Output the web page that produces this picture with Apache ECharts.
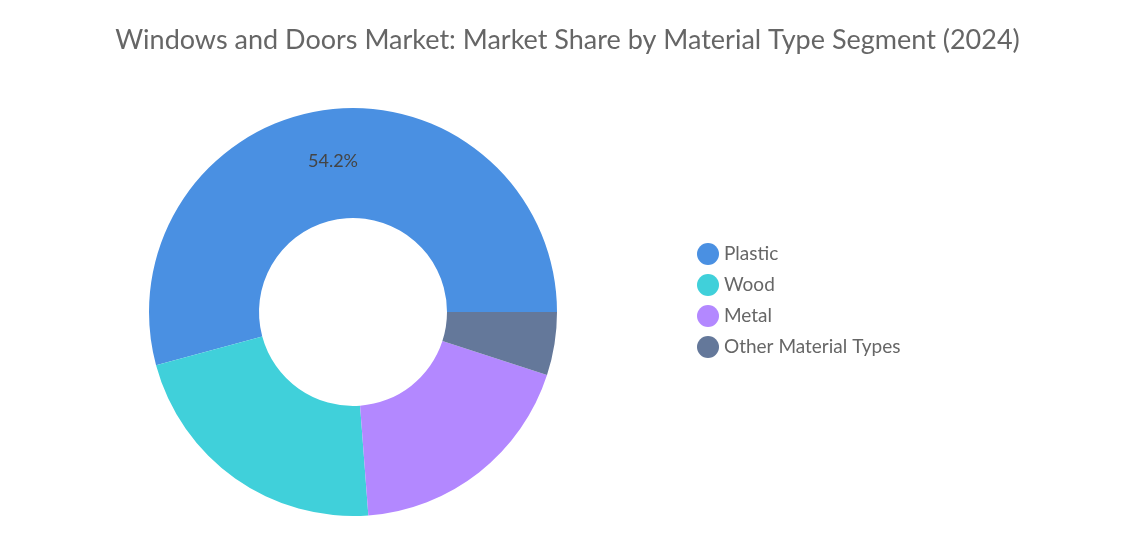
<!DOCTYPE html>
<html><head><meta charset="utf-8">
<script src="https://cdn.jsdelivr.net/npm/echarts@6/dist/echarts.min.js"></script>
<style>html,body{margin:0;padding:0;background:#fff}#c{width:1135px;height:535px}</style>
</head><body><div id="c"></div>
<script>
const categories = ["Plastic", "Wood", "Metal", "Other Material Types"];
const values = [54.2, 22.0, 18.8, 5.0];
const colors = ["#4a90e2", "#40d0da", "#b388ff", "#64789a"];
const chart = echarts.init(document.getElementById('c'));
chart.setOption({
  title: {text: "Windows and Doors Market: Market Share by Material Type Segment (2024)", left: 'center', top: 22,
    textStyle: {fontFamily: 'Lato', fontSize: 27, fontWeight: 'normal', color: '#666'}},
  legend: {orient: 'vertical', left: 692, top: 238, itemGap: 9, icon: 'circle', itemWidth: 22, itemHeight: 22,
    textStyle: {fontFamily: 'Lato', fontSize: 19, color: '#666'}},
  series: [{
    type: 'pie', center: [353, 312], radius: [94, 204], startAngle: 0, clockwise: false,
    label: {show: true, position: 'inside', fontFamily: 'Lato', fontSize: 18, color: '#444',
      formatter: p => p.dataIndex === 0 ? p.value.toFixed(1) + '%' : ''},
    labelLine: {show: false},
    data: categories.map((n, i) => ({name: n, value: values[i], itemStyle: {color: colors[i]}}))
  }]
});
</script></body></html>
